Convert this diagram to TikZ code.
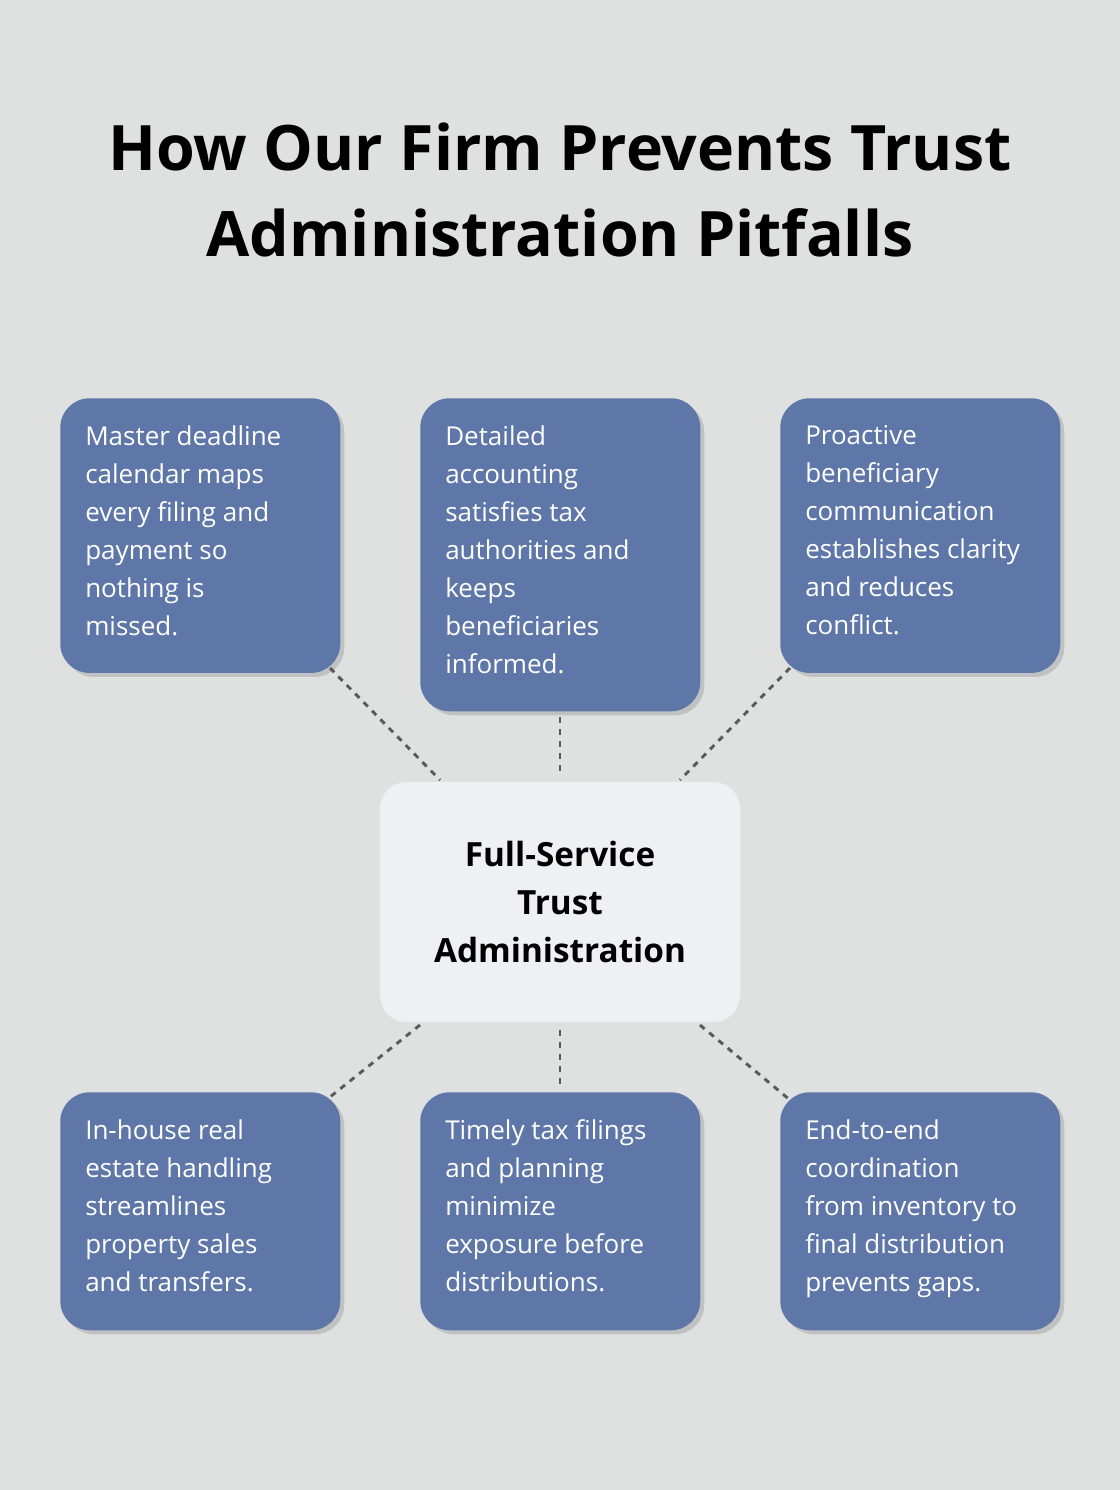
\documentclass[tikz,border=0pt]{standalone}
\usepackage{fontspec}
\setmainfont{Open Sans}
\usetikzlibrary{positioning,shadows}
\definecolor{bgcol}{HTML}{DFE1E0}
\definecolor{boxcol}{HTML}{5E77A8}
\definecolor{midcol}{HTML}{EFF0F2}
\definecolor{linkcol}{HTML}{5A5A5A}
\tikzset{
  card/.style={draw=none, fill=boxcol, rounded corners=22pt, anchor=north west,
    minimum width=210pt, inner sep=0pt,
    drop shadow={shadow xshift=3pt, shadow yshift=-3pt, opacity=0.25, fill=black!60}},
  cardtext/.style={anchor=north west, inner sep=0pt, text=white, align=left,
    font=\fontsize{19.5}{28.5}\selectfont},
  link/.style={draw=linkcol, line width=2.2pt, dash pattern=on 4.5pt off 4.5pt}
}
\begin{document}
\begin{tikzpicture}[x=0.75pt, y=-0.75pt]
    \fill[bgcol] (0,0) rectangle (1120,1490);
    \useasboundingbox (0,0) rectangle (1120,1490);

    % Title
    \node[align=center, font=\bfseries\fontsize{47}{65}\selectfont] (title) at (560,190)
        {How Our Firm Prevents Trust\\Administration Pitfalls};

    % Top row
    \node[card, minimum height=206pt] (m1) at (60,398) {};
    \node[card, minimum height=234.75pt] (m2) at (420,398) {};
    \node[card, minimum height=206pt] (m3) at (780,398) {};
    \node[cardtext] (t1) at (85,425) {Master deadline\\calendar maps\\every filing and\\payment so\\nothing is\\missed.};
    \node[cardtext] (t2) at (445,425) {Detailed\\accounting\\satisfies tax\\authorities and\\keeps\\beneficiaries\\informed.};
    \node[cardtext] (t3) at (805,425) {Proactive\\beneficiary\\communication\\establishes clarity\\and reduces\\conflict.};

    % Bottom row
    \node[card, minimum height=178.5pt] (b1) at (60,1092) {};
    \node[card, minimum height=178.5pt] (b2) at (420,1092) {};
    \node[card, minimum height=178.5pt] (b3) at (780,1092) {};
    \node[cardtext] (u1) at (85,1119) {In-house real\\estate handling\\streamlines\\property sales\\and transfers.};
    \node[cardtext] (u2) at (445,1119) {Timely tax filings\\and planning\\minimize\\exposure before\\distributions.};
    \node[cardtext] (u3) at (805,1119) {End-to-end\\coordination\\from inventory to\\final distribution\\prevents gaps.};

    % Centre
    \node[fill=midcol, rounded corners=20pt, minimum width=270pt, minimum height=180pt,
        align=center, font=\bfseries\fontsize{25}{36}\selectfont] (hub) at (560,902)
        {Full-Service\\Trust\\Administration};

    % Link ends
    \coordinate (a1) at (330,668); \coordinate (h1) at (440,780);
    \coordinate (a2) at (560,717); \coordinate (h2) at (560,775);
    \coordinate (a3) at (790,668); \coordinate (h3) at (680,780);
    \coordinate (c1) at (330,1097); \coordinate (k1) at (420,1025);
    \coordinate (c2) at (560,1085); \coordinate (k2) at (560,1030);
    \coordinate (c3) at (790,1100); \coordinate (k3) at (700,1025);

    \draw[link] (a1) -- (h1);
    \draw[link] (a2) -- (h2);
    \draw[link] (a3) -- (h3);
    \draw[link] (k1) -- (c1);
    \draw[link] (k2) -- (c2);
    \draw[link] (k3) -- (c3);
\end{tikzpicture}
\end{document}
